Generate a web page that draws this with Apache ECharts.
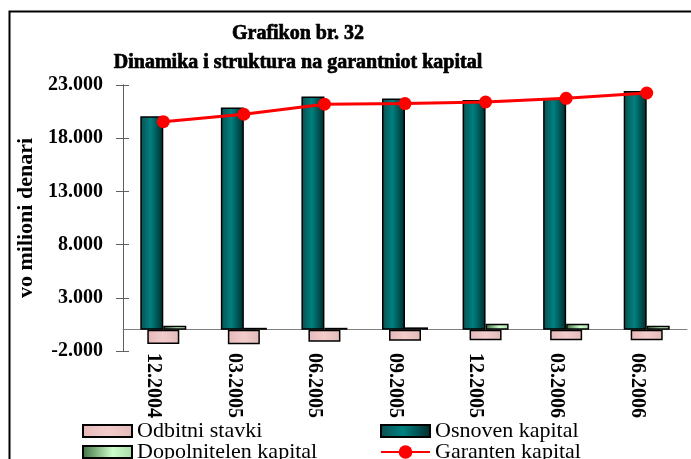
<!DOCTYPE html>
<html>
<head>
<meta charset="utf-8">
<script src="https://cdn.jsdelivr.net/npm/echarts@6/dist/echarts.min.js"></script>
<style>html,body{margin:0;padding:0;background:#fff;}#c{width:691px;height:459px;}</style>
</head>
<body>
<div id="c"></div>
<script>
var categories = ['12.2004','03.2005','06.2005','09.2005','12.2005','03.2006','06.2006'];
var odbitni = [-1340, -1370, -1130, -1030, -990, -990, -990];
var osnoven = [20070, 20880, 21920, 21730, 21580, 21770, 22430];
var dopolnitelen = [370, 180, 180, 220, 560, 560, 370];
var garanten = [19550, 20250, 21200, 21250, 21400, 21750, 22250];
var yTickLabels = ['-2.000','3.000','8.000','13.000','18.000','23.000'];
var seriesNames = ['Odbitni stavki','Osnoven kapital','Dopolnitelen kapital','Garanten kapital'];

var chart = echarts.init(document.getElementById('c'), null, {renderer:'canvas'});
var G = echarts.graphic;
var teal = new G.LinearGradient(0,0,1,0,[{offset:0,color:'#0b4f4f'},{offset:0.45,color:'#008080'},{offset:1,color:'#002b2b'}]);
var green = new G.LinearGradient(0,0,1,0,[{offset:0,color:'#3f6f3f'},{offset:0.6,color:'#ccffcc'},{offset:1,color:'#a8dca8'}]);
var pink = new G.LinearGradient(0,0,1,0,[{offset:0,color:'#e6b8b8'},{offset:0.5,color:'#f2cccc'},{offset:1,color:'#e4baba'}]);
var serif = '"Liberation Serif", serif';
var legendText = {fontFamily:serif,fontSize:22,lineHeight:21,color:'#000'};
function leg(name, left, top, icon, ih){
  var d = icon ? {name:name, icon:icon} : {name:name};
  return {data:[d], orient:'horizontal', left:left, top:top, padding:0,
          itemWidth:49, itemHeight:ih, itemGap:0, textStyle:legendText};
}

chart.setOption({
  animation:false,
  backgroundColor:'#fff',
  graphic:[{type:'rect', left:7, top:9, z:-10, shape:{width:700,height:470}, style:{fill:'none',stroke:'#000',lineWidth:2}}],
  title:{
    text:'Grafikon br. 32\nDinamika i struktura na garantniot kapital',
    left:293, top:14, textAlign:'center',
    textStyle:{fontFamily:serif, fontSize:20, fontWeight:'bold', color:'#000', lineHeight:29,
               textBorderColor:'#000', textBorderWidth:0.7}
  },
  legend:[
    leg(seriesNames[0], 82, 420, 'rect', 12),
    leg(seriesNames[1], 380, 420, 'rect', 12),
    leg(seriesNames[2], 82, 441, 'rect', 12),
    leg(seriesNames[3], 380, 441, null, 17)
  ],
  grid:{left:123, right:4, top:85, height:266, containLabel:false},
  xAxis:[
    {type:'category', data:categories, position:'bottom',
     axisLine:{show:false, onZero:false}, axisTick:{show:false},
     axisLabel:{rotate:-90, margin:2, verticalAlign:'top', fontFamily:serif, fontSize:20, fontWeight:'bold', color:'#000'}},
    {type:'category', data:categories, position:'bottom',
     axisLine:{show:true, onZero:true, lineStyle:{color:'#808080',width:1}}, axisTick:{show:false}, axisLabel:{show:false}}
  ],
  yAxis:[
    {type:'value', min:-2000, max:23000, interval:5000, position:'left',
     name:'vo milioni denari', nameLocation:'middle', nameRotate:90, nameGap:84,
     nameTextStyle:{fontFamily:serif, fontSize:22, fontWeight:'bold', color:'#000'},
     axisLine:{show:true, lineStyle:{color:'#606060'}},
     axisTick:{show:true, inside:false, length:7, lineStyle:{color:'#606060'}},
     splitLine:{show:false},
     axisLabel:{margin:20, fontFamily:serif, fontSize:20, fontWeight:'bold', color:'#000',
       formatter:function(v,i){return yTickLabels[i];}}},
    {type:'value', min:-2000, max:23000, interval:5000, position:'left', offset:0,
     axisLine:{show:true, lineStyle:{color:'#606060'}}, axisTick:{show:true, inside:true, length:6, lineStyle:{color:'#606060'}},
     splitLine:{show:false}, axisLabel:{show:false}}
  ],
  series:[
    {name:seriesNames[0], type:'bar', xAxisIndex:1, yAxisIndex:0, data:odbitni, barWidth:32,
     itemStyle:{color:pink, borderColor:'#000', borderWidth:1.5}},
    {name:seriesNames[1], type:'bar', xAxisIndex:0, yAxisIndex:0, data:osnoven, barWidth:23, barGap:'0%',
     itemStyle:{color:teal, borderColor:'#000', borderWidth:1.5}},
    {name:seriesNames[2], type:'bar', xAxisIndex:0, yAxisIndex:0, data:dopolnitelen, barWidth:23, barGap:'0%',
     itemStyle:{color:green, borderColor:'#000', borderWidth:1.5}},
    {name:seriesNames[3], type:'line', xAxisIndex:0, yAxisIndex:0, data:garanten, symbol:'circle', symbolSize:13,
     lineStyle:{color:'#ff0000', width:3}, itemStyle:{color:'#ff0000'}, z:5}
  ]
});
</script>
</body>
</html>
